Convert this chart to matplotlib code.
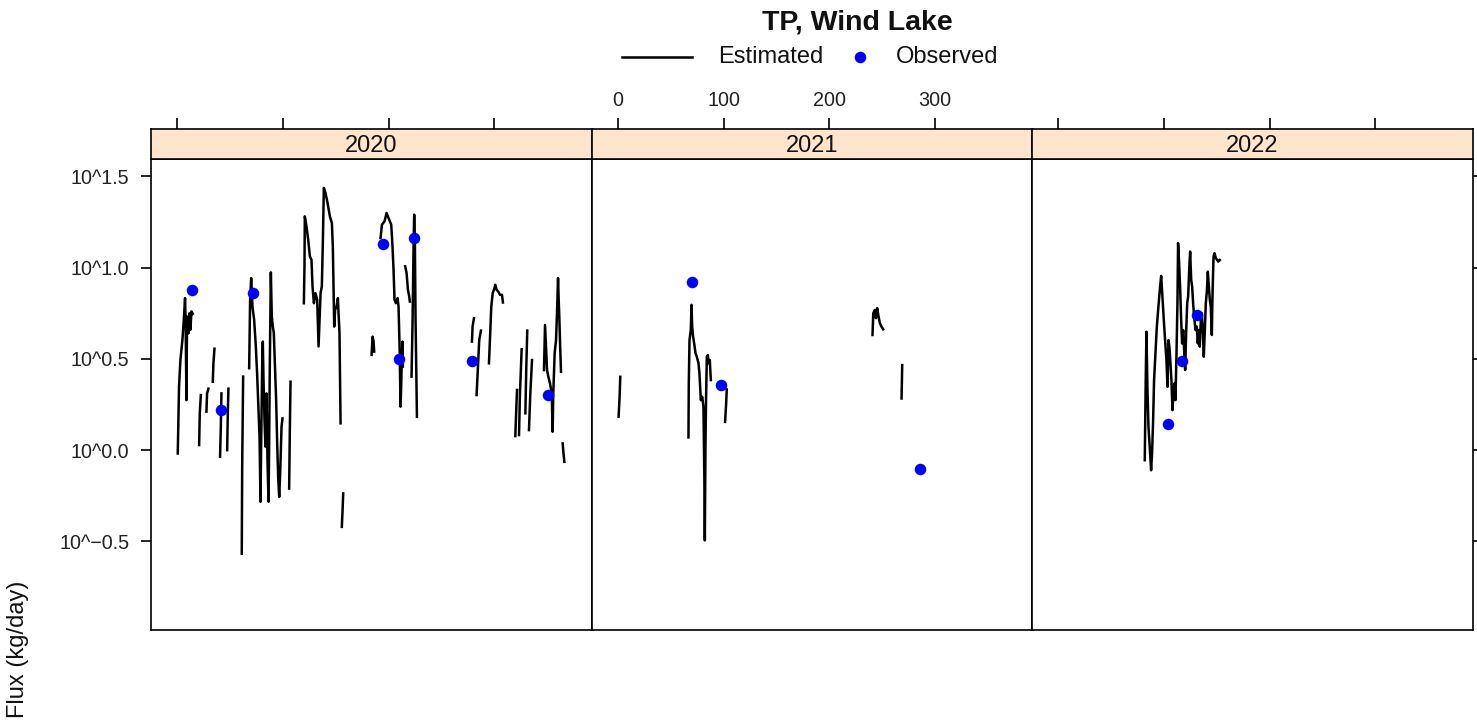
import numpy as np
import matplotlib
matplotlib.use("Agg")
import matplotlib.pyplot as plt
from matplotlib.lines import Line2D

plt.rcParams['font.family'] = ['Liberation Sans', 'DejaVu Sans']

nan = np.nan
years = ["2020", "2021", "2022"]

# Estimated flux (day of year, log10 kg/day); NaN separates gaps in the record
est_day_2020 = [0.7, 1.9, 3.2, 5.1, 6.6, 7.6, 8.2, 8.9, 9.5, 10.8, 11.7, 12.7, 13.6, 14.9, nan,
                20.9, 21.5, 22.5, nan,
                27.8, 28.4, 29.7, nan,
                33.8, 34.4, 35.4, nan,
                40.7, 41.4, 42.0, nan,
                47.4, 48.0, 48.6, nan,
                61.2, 61.6, 62.5, nan,
                68.2, 69.1, 70.1, 71.3, 72.9, 74.5, 75.7, 76.7, 78.0, 78.9, 79.5, 80.5, 81.1, 81.7,
                82.7, 83.6, 84.6, 85.5, 86.5, 87.1, 87.7, 88.7, 89.6, 90.6, 91.5, 92.8, 93.7, 94.7,
                95.6, 96.6, 97.5, 98.8, 99.7, nan,
                106.0, 106.6, 107.3, nan,
                119.9, 120.5, 120.8, 122.4, 124.0, 125.6, 127.1, 128.1, 129.4, 130.9, 132.5, 133.8,
                134.7, 135.7, 136.9, 137.9, 138.8, 140.4, 142.3, 144.5, 146.4, 147.3, 148.0, 148.6,
                149.5, 150.8, 152.1, 152.7, 153.6, 154.3, 154.6, nan,
                155.8, 156.5, 157.1, nan,
                183.9, 184.9, 185.8, 186.4, nan,
                192.4, 193.7, 196.2, 198.1, 200.6, 202.5, 203.7, 204.7, 205.6, 206.9, 208.5, 209.4,
                210.4, 211.0, 211.3, 211.9, 212.6, 213.2, 213.5, nan,
                215.7, 217.0, 218.3, 219.5, 220.1, nan,
                221.7, 222.7, 223.6, 224.2, 224.9, 225.5, 226.1, 226.8, nan,
                278.8, 279.4, 280.7, nan,
                283.2, 284.5, 285.7, 287.3, nan,
                294.9, 295.8, 297.1, 298.4, 299.6, 300.9, 302.1, 303.7, 305.3, 307.2, 308.1, nan,
                319.8, 320.7, 321.4, nan,
                323.3, 324.2, 325.8, nan,
                329.3, 330.2, 331.1, nan,
                332.7, 334.0, 335.6, nan,
                346.9, 347.9, 348.8, 349.8, 351.0, 352.6, 354.2, 355.1, 355.7, 357.0, 358.3, 359.2,
                360.2, 360.8, 361.4, 362.1, 363.0, nan,
                364.6, 365.2, 366.2]
est_val_2020 = [-0.018, 0.348, 0.494, 0.604, 0.732, 0.833, 0.677, 0.274, 0.732, 0.640, 0.750, 0.659, 0.760, 0.747, nan,
                0.028, 0.202, 0.302, nan,
                0.211, 0.311, 0.337, nan,
                0.375, 0.476, 0.556, nan,
                -0.036, 0.128, 0.311, nan,
                0.0, 0.2, 0.337, nan,
                -0.567, -0.091, 0.403, nan,
                0.449, 0.824, 0.943, 0.787, 0.714, 0.568, 0.421, 0.275, 0.074, -0.283, 0.019, 0.458, 0.595, 0.403,
                0.165, 0.019, 0.311, -0.055, -0.283, 0.037, 0.458, 0.974, 0.732, 0.677, 0.641, 0.421, 0.275, 0.037,
                -0.146, -0.256, -0.128, 0.128, 0.174, nan,
                -0.210, 0.092, 0.375, nan,
                0.805, 1.007, 1.281, 1.226, 1.153, 1.061, 1.043, 0.897, 0.805, 0.860, 0.824, 0.568,
                0.714, 0.860, 0.897, 1.153, 1.437, 1.409, 1.354, 1.281, 1.244, 1.116, 0.897, 0.677,
                0.769, 0.787, 0.833, 0.750, 0.641, 0.311, 0.147, nan,
                -0.42, -0.33, -0.237, nan,
                0.522, 0.622, 0.595, 0.540, nan,
                1.162, 1.235, 1.254, 1.299, 1.263, 1.235, 1.116, 0.988, 0.824, 0.805, 0.833, 0.787,
                0.568, 0.348, 0.238, 0.348, 0.531, 0.595, 0.458, nan,
                1.007, 0.970, 0.879, 0.842, 0.814, nan,
                0.403, 0.714, 1.116, 1.290, 1.116, 0.714, 0.458, 0.183, nan,
                0.595, 0.677, 0.723, nan,
                0.302, 0.458, 0.604, 0.655, nan,
                0.476, 0.604, 0.787, 0.860, 0.879, 0.906, 0.879, 0.869, 0.851, 0.851, 0.809, nan,
                0.077, 0.220, 0.330, nan,
                0.083, 0.311, 0.553, nan,
                0.202, 0.458, 0.655, nan,
                0.110, 0.311, 0.494, nan,
                0.439, 0.686, 0.568, 0.439, 0.403, 0.366, 0.311, 0.101, 0.311, 0.531, 0.604, 0.750,
                0.943, 0.824, 0.732, 0.586, 0.430, nan,
                0.037, -0.009, -0.064]

est_day_2021 = [0.6, 1.55, 2.2, nan,
                66.8, 67.1, 67.8, 69.0, 69.7, 70.3, 71.2, 72.2, 73.5, 74.7, 76.3, 77.2, 78.5, 79.8,
                81.0, 82.0, 82.3, 82.9, 83.5, 84.2, 85.1, 86.1, 87.0, 88.0, nan,
                101.5, 102.5, 103.1, nan,
                241.2, 241.9, 243.4, 244.4, 245.6, 246.9, 248.2, 249.7, 251.3, nan,
                268.7, 269.0, 269.3]
est_val_2021 = [0.183, 0.293, 0.402, nan,
                0.070, 0.366, 0.604, 0.659, 0.796, 0.677, 0.622, 0.585, 0.531, 0.512, 0.476, 0.421, 0.274, 0.293,
                0.238, -0.219, -0.494, 0.018, 0.293, 0.512, 0.521, 0.476, 0.494, 0.384, nan,
                0.155, 0.256, 0.333, nan,
                0.631, 0.750, 0.768, 0.723, 0.778, 0.732, 0.695, 0.677, 0.662, nan,
                0.283, 0.366, 0.466]

est_day_2022 = [82.0, 82.9, 83.6, 84.5, 85.5, 86.7, 88.0, 88.9, 89.9, 90.8, 92.1, 93.4, 94.9, 96.5,
                97.5, 98.7, 100.0, 101.2, 102.5, 103.5, 104.4, 105.3, 106.3, 107.2, 108.2, 109.1,
                110.1, 111.0, 112.0, 112.9, 113.5, 114.5, 115.4, 116.4, 117.3, 118.3, 119.2, 120.2,
                121.1, 122.1, 123.0, 124.0, 124.9, 125.9, 126.8, 127.7, 128.7, 130.0, 131.2, 132.1,
                133.1, 134.0, 135.0, 135.9, 136.9, 137.8, 138.8, 139.7, 140.7, 141.6, 142.6, 143.5,
                144.4, 145.4, 146.0, 147.0, 147.9, 149.2, 150.4, 151.4, 153.0]
est_val_2022 = [-0.055, 0.384, 0.649, 0.347, 0.128, 0.018, -0.110, -0.019, 0.164, 0.384, 0.530, 0.677, 0.786, 0.896,
                0.955, 0.841, 0.713, 0.603, 0.494, 0.347, 0.603, 0.567, 0.475, 0.384, 0.219, 0.311,
                0.366, 0.274, 0.530, 0.805, 1.134, 1.024, 0.896, 0.713, 0.585, 0.658, 0.548, 0.439,
                0.640, 0.805, 0.841, 0.988, 1.088, 0.933, 0.896, 0.805, 0.731, 0.658, 0.677, 0.585,
                0.658, 0.567, 0.713, 0.750, 0.658, 0.512, 0.658, 0.805, 0.869, 0.978, 0.896, 0.823,
                0.786, 0.631, 0.841, 1.061, 1.079, 1.052, 1.042, 1.033, 1.042]

# Observed samples
obs_day_2020 = [13.8, 42.0, 72.0, 194.9, 210.1, 224.2, 279.1, 350.4]
obs_val_2020 = [0.878, 0.22, 0.86, 1.129, 0.498, 1.162, 0.487, 0.30]
obs_day_2021 = [70.0, 98.1, 286.0]
obs_val_2021 = [0.920, 0.357, -0.102]
obs_day_2022 = [103.5, 117.6, 131.8]
obs_val_2022 = [0.142, 0.490, 0.742]

est_days = [est_day_2020, est_day_2021, est_day_2022]
est_vals = [est_val_2020, est_val_2021, est_val_2022]
obs_days = [obs_day_2020, obs_day_2021, obs_day_2022]
obs_vals = [obs_val_2020, obs_val_2021, obs_val_2022]

x_ticks = [0, 100, 200, 300]
y_ticks = [-0.5, 0.0, 0.5, 1.0, 1.5]
y_tick_labels = ["10^\u22120.5", "10^0.0", "10^0.5", "10^1.0", "10^1.5"]
title = "TP, Wind Lake"
ylabel = "Flux (kg/day)"

W, H = 1477, 723
fig = plt.figure(figsize=(W / 100, H / 100), dpi=100)

left_px = [151, 592, 1032]
right_px = [592, 1032, 1473]
plot_top, plot_bot, strip_top = 159, 630, 129
xlim = (-24.6, 392.3)
ylim = (-0.985, 1.595)
strip_color = "#FFE5CC"
tick_fs = 14.2
strip_fs = 17

for i, yr in enumerate(years):
    l = left_px[i] / W
    w = (right_px[i] - left_px[i]) / W
    ax = fig.add_axes([l, 1 - plot_bot / H, w, (plot_bot - plot_top) / H])
    sax = fig.add_axes([l, 1 - plot_top / H, w, (plot_top - strip_top) / H], sharex=ax)
    ax.plot(est_days[i], est_vals[i], color="black", lw=1.8, solid_joinstyle="round")
    ax.plot(obs_days[i], obs_vals[i], "o", color="#0000FF", ms=8.3, mec="none", zorder=3)
    ax.set_xlim(*xlim)
    ax.set_ylim(*ylim)
    for a in (ax, sax):
        for s in a.spines.values():
            s.set_linewidth(1.2)
    ax.tick_params(axis="x", bottom=False, labelbottom=False, top=False)
    ax.set_yticks(y_ticks)
    if i == 0:
        ax.set_yticklabels(y_tick_labels, fontsize=tick_fs, color="#222222")
        ax.tick_params(axis="y", left=True, right=False, length=7.2, width=1.2, pad=8.5)
    elif i == 2:
        ax.tick_params(axis="y", left=False, labelleft=False, right=True, labelright=False,
                       length=7.2, width=1.2)
    else:
        ax.tick_params(axis="y", left=False, labelleft=False)
    sax.set_facecolor(strip_color)
    sax.set_yticks([])
    sax.xaxis.tick_top()
    sax.set_xticks(x_ticks)
    sax.tick_params(axis="x", top=True, bottom=False, labelbottom=False, length=8, width=1.2,
                    labeltop=(i == 1), labelsize=tick_fs, pad=6, labelcolor="#222222")
    sax.text(0.5, 0.45, yr, transform=sax.transAxes, ha="center", va="center",
             fontsize=strip_fs, color="#111111")

fig.text(857 / W, 1 - 22 / H, title, ha="center", va="center", fontsize=20.5,
         fontweight="bold", color="#111111")
leg_y = 1 - 57 / H
fig.add_artist(Line2D([622 / W, 692 / W], [leg_y, leg_y], color="black", lw=1.8,
                      transform=fig.transFigure))
fig.text(718 / W, leg_y, "Estimated", ha="left", va="center", fontsize=17, color="#111111")
fig.add_artist(Line2D([860 / W], [leg_y], marker="o", color="#0000FF", ms=8.3, mec="none",
                      transform=fig.transFigure))
fig.text(896 / W, leg_y, "Observed", ha="left", va="center", fontsize=17, color="#111111")
fig.text(18 / W, 1 - 649 / H, ylabel, rotation=90, ha="center", va="center", fontsize=17,
         color="#111111")

fig.savefig("out.png", dpi=100)
